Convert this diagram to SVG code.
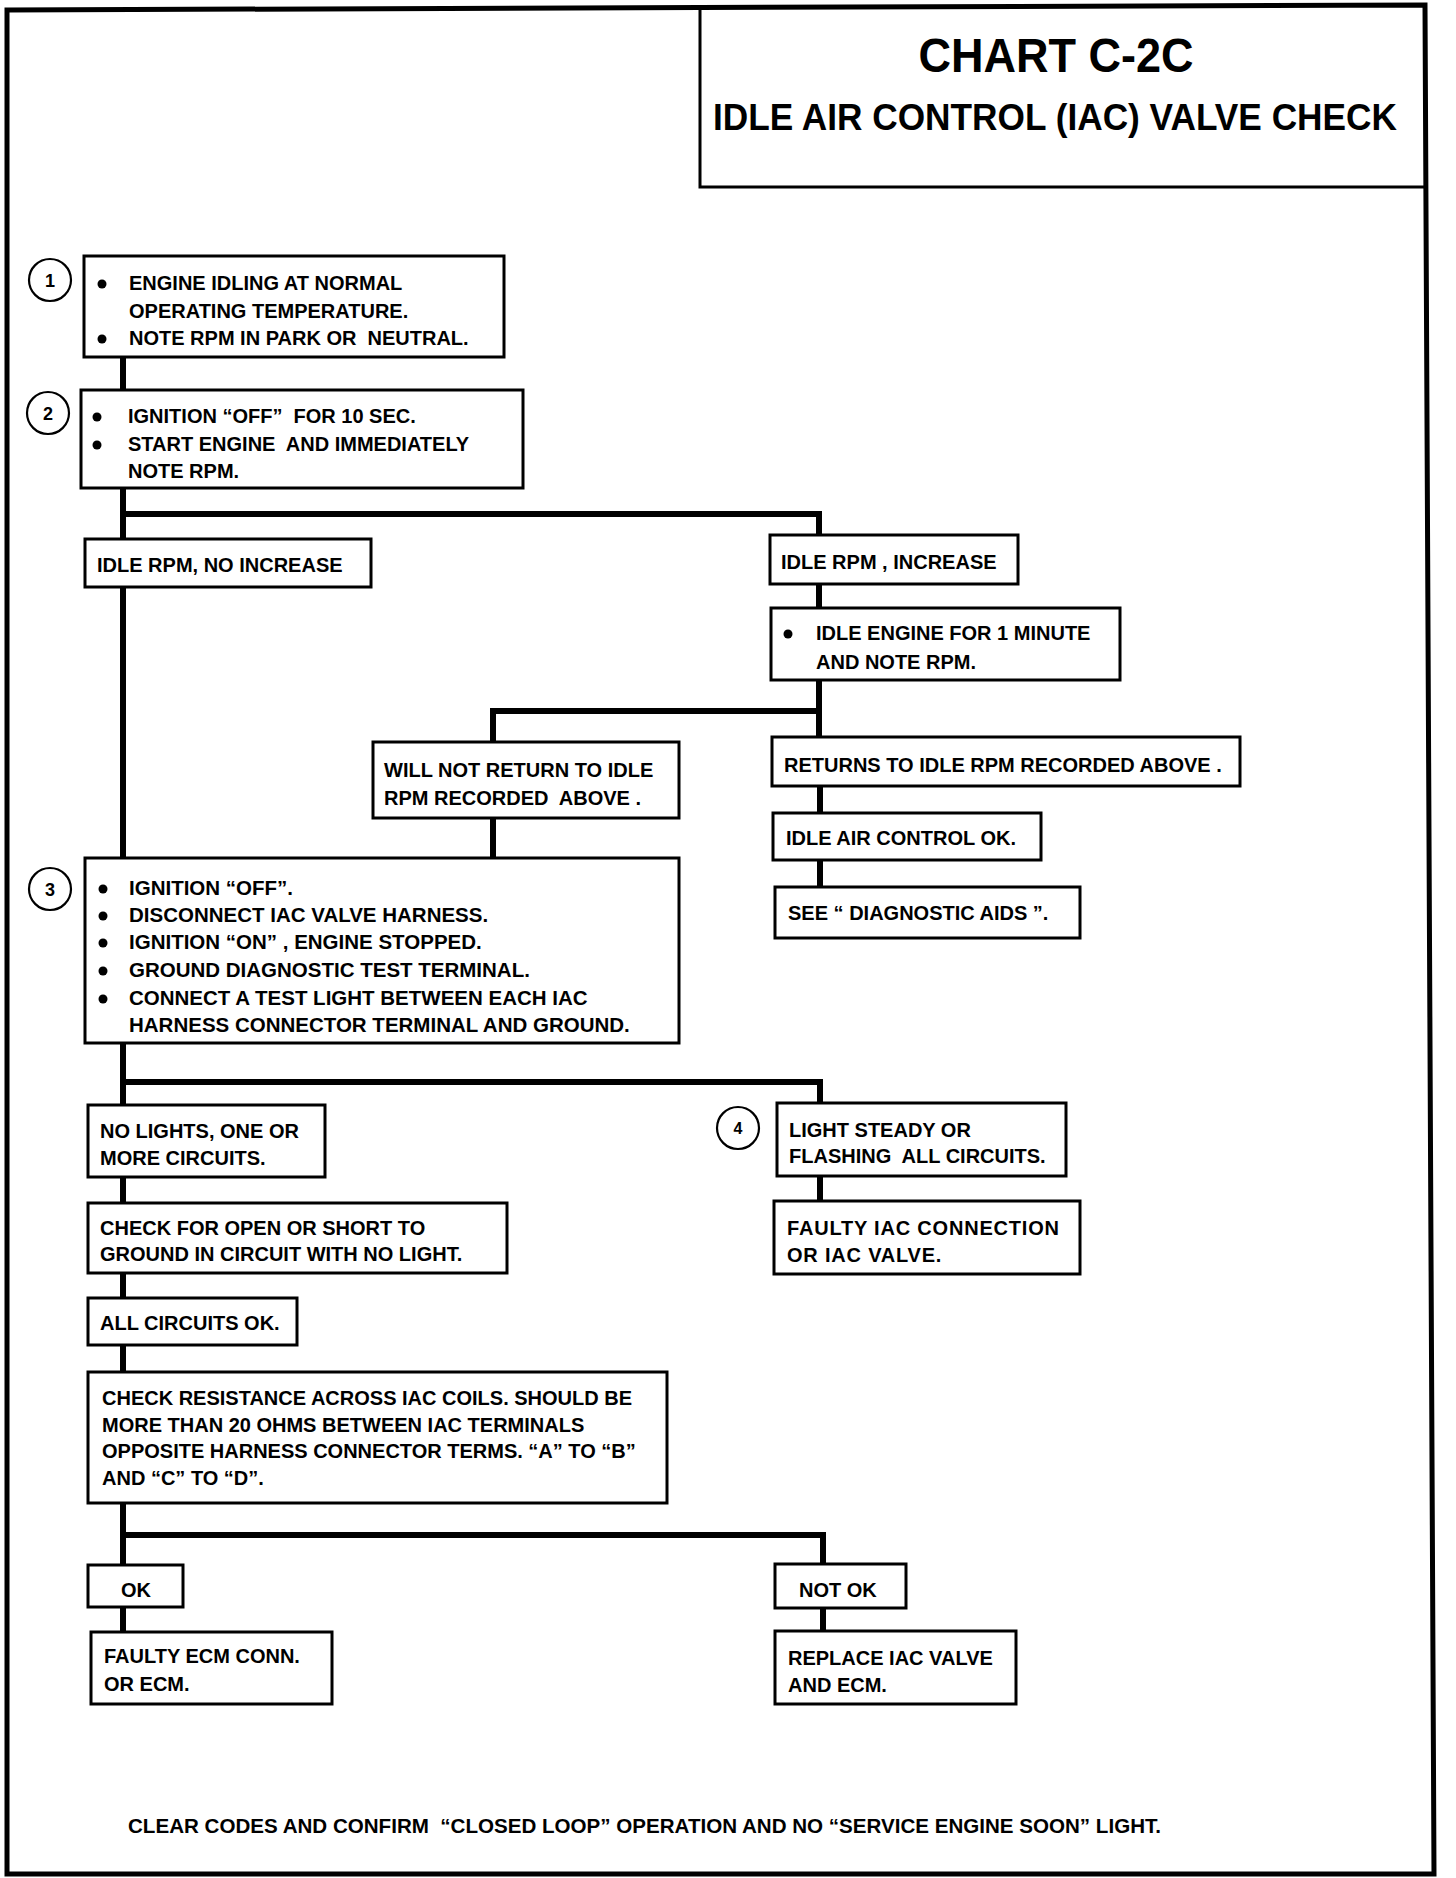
<svg xmlns="http://www.w3.org/2000/svg" width="1456" height="1878" viewBox="0 0 1456 1878">
<style>
text{font-family:"Liberation Sans",Arial,sans-serif;font-weight:bold;fill:#000;font-size:20px;white-space:pre}
text.t1{font-size:48px}
text.t2{font-size:36px}
text.b3{font-size:20.5px}
.box{fill:#fff;stroke:#000;stroke-width:3}
.num{fill:#fff;stroke:#000;stroke-width:2.2}
text.numt{font-size:18px;text-anchor:middle}
text.numt4{font-size:16px;text-anchor:middle}
.conn{fill:none;stroke:#000;stroke-width:6;stroke-linecap:square;stroke-linejoin:miter}
.frame{fill:none;stroke:#000;stroke-width:5}
</style>
<rect width="1456" height="1878" fill="#fff"/>
<g id="frame">
<path class="frame" d="M7,10 L1425,5 L1434,1874 L7,1874 Z"/>
<path fill="none" stroke="#000" stroke-width="3" d="M700,7 L700,187 L1427,187"/>
<text class="t1" x="1056" y="72" text-anchor="middle" textLength="275" lengthAdjust="spacingAndGlyphs">CHART C-2C</text>
<text class="t2" x="1055" y="130" text-anchor="middle" textLength="684" lengthAdjust="spacingAndGlyphs">IDLE AIR CONTROL (IAC) VALVE CHECK</text>
</g>
<g id="connectors">
<path class="conn" d="M123,357 V1632"/>
<path class="conn" d="M123,514 H819 V535"/>
<path class="conn" d="M819,584 V737"/>
<path class="conn" d="M493,711 H819"/>
<path class="conn" d="M493,711 V858"/>
<path class="conn" d="M820,786 V887"/>
<path class="conn" d="M123,1082 H820 V1201"/>
<path class="conn" d="M123,1535 H823 V1631"/>
</g>
<g id="n1">
<circle class="num" cx="50" cy="280" r="21"/><text class="numt" x="50" y="287">1</text>
<rect class="box" x="84" y="256" width="420" height="101"/>
<circle cx="102" cy="284" r="4.5"/><circle cx="102" cy="339" r="4.5"/>
<text x="129" y="290">ENGINE IDLING AT NORMAL</text>
<text x="129" y="318">OPERATING TEMPERATURE.</text>
<text x="129" y="345">NOTE RPM IN PARK OR  NEUTRAL.</text>
</g>
<g id="n2">
<circle class="num" cx="48" cy="413" r="21"/><text class="numt" x="48" y="420">2</text>
<rect class="box" x="81" y="390" width="442" height="98"/>
<circle cx="97" cy="417" r="4.5"/><circle cx="97" cy="445" r="4.5"/>
<text x="128" y="423">IGNITION “OFF”  FOR 10 SEC.</text>
<text x="128" y="451">START ENGINE  AND IMMEDIATELY</text>
<text x="128" y="478">NOTE RPM.</text>
</g>
<g id="n_noincrease">
<rect class="box" x="85" y="539" width="286" height="48"/>
<text x="97" y="572">IDLE RPM, NO INCREASE</text>
</g>
<g id="n_increase">
<rect class="box" x="770" y="535" width="248" height="49"/>
<text x="781" y="569">IDLE RPM , INCREASE</text>
</g>
<g id="n_idle1min">
<rect class="box" x="771" y="608" width="349" height="72"/>
<circle cx="788" cy="634" r="4.5"/>
<text x="816" y="640">IDLE ENGINE FOR 1 MINUTE</text>
<text x="816" y="669">AND NOTE RPM.</text>
</g>
<g id="n_willnot">
<rect class="box" x="373" y="742" width="306" height="76"/>
<text x="384" y="777">WILL NOT RETURN TO IDLE</text>
<text x="384" y="805">RPM RECORDED  ABOVE .</text>
</g>
<g id="n_returns">
<rect class="box" x="772" y="737" width="468" height="49"/>
<text x="784" y="772">RETURNS TO IDLE RPM RECORDED ABOVE .</text>
</g>
<g id="n_iacok">
<rect class="box" x="773" y="813" width="268" height="47"/>
<text x="786" y="845">IDLE AIR CONTROL OK.</text>
</g>
<g id="n_see">
<rect class="box" x="775" y="887" width="305" height="51"/>
<text x="788" y="920">SEE “ DIAGNOSTIC AIDS ”.</text>
</g>
<g id="n3">
<circle class="num" cx="50" cy="889" r="21"/><text class="numt" x="50" y="896">3</text>
<rect class="box" x="85" y="858" width="594" height="185"/>
<circle cx="103" cy="889" r="4.5"/><circle cx="103" cy="916" r="4.5"/><circle cx="103" cy="943" r="4.5"/><circle cx="103" cy="971" r="4.5"/><circle cx="103" cy="999" r="4.5"/>
<text class="b3" x="129" y="895">IGNITION “OFF”.</text>
<text class="b3" x="129" y="922">DISCONNECT IAC VALVE HARNESS.</text>
<text class="b3" x="129" y="949">IGNITION “ON” , ENGINE STOPPED.</text>
<text class="b3" x="129" y="977">GROUND DIAGNOSTIC TEST TERMINAL.</text>
<text class="b3" x="129" y="1005">CONNECT A TEST LIGHT BETWEEN EACH IAC</text>
<text class="b3" x="129" y="1032">HARNESS CONNECTOR TERMINAL AND GROUND.</text>
</g>
<g id="n_nolights">
<rect class="box" x="88" y="1105" width="237" height="72"/>
<text x="100" y="1138">NO LIGHTS, ONE OR</text>
<text x="100" y="1165">MORE CIRCUITS.</text>
</g>
<g id="n4">
<circle class="num" cx="738" cy="1128" r="21"/><text class="numt4" x="738" y="1134">4</text>
<rect class="box" x="777" y="1103" width="289" height="73"/>
<text x="789" y="1137">LIGHT STEADY OR</text>
<text x="789" y="1163">FLASHING  ALL CIRCUITS.</text>
</g>
<g id="n_faultyiac">
<rect class="box" x="774" y="1201" width="306" height="73"/>
<text x="787" y="1235" textLength="272">FAULTY IAC CONNECTION</text>
<text x="787" y="1262" letter-spacing="0.8">OR IAC VALVE.</text>
</g>
<g id="n_checkopen">
<rect class="box" x="88" y="1203" width="419" height="70"/>
<text x="100" y="1235">CHECK FOR OPEN OR SHORT TO</text>
<text x="100" y="1261">GROUND IN CIRCUIT WITH NO LIGHT.</text>
</g>
<g id="n_allok">
<rect class="box" x="88" y="1298" width="209" height="47"/>
<text x="100" y="1330">ALL CIRCUITS OK.</text>
</g>
<g id="n_resistance">
<rect class="box" x="88" y="1372" width="579" height="131"/>
<text x="102" y="1405">CHECK RESISTANCE ACROSS IAC COILS. SHOULD BE</text>
<text x="102" y="1432">MORE THAN 20 OHMS BETWEEN IAC TERMINALS</text>
<text x="102" y="1458">OPPOSITE HARNESS CONNECTOR TERMS. “A” TO “B”</text>
<text x="102" y="1485">AND “C” TO “D”.</text>
</g>
<g id="n_ok">
<rect class="box" x="88" y="1565" width="95" height="42"/>
<text x="121" y="1597">OK</text>
</g>
<g id="n_faultyecm">
<rect class="box" x="91" y="1632" width="241" height="72"/>
<text x="104" y="1663">FAULTY ECM CONN.</text>
<text x="104" y="1691">OR ECM.</text>
</g>
<g id="n_notok">
<rect class="box" x="775" y="1564" width="131" height="44"/>
<text x="799" y="1597">NOT OK</text>
</g>
<g id="n_replace">
<rect class="box" x="775" y="1631" width="241" height="73"/>
<text x="788" y="1665">REPLACE IAC VALVE</text>
<text x="788" y="1692">AND ECM.</text>
</g>
<g id="footer">
<text x="128" y="1833" textLength="1033" lengthAdjust="spacingAndGlyphs">CLEAR CODES AND CONFIRM  “CLOSED LOOP” OPERATION AND NO “SERVICE ENGINE SOON” LIGHT.</text>
</g>
</svg>
